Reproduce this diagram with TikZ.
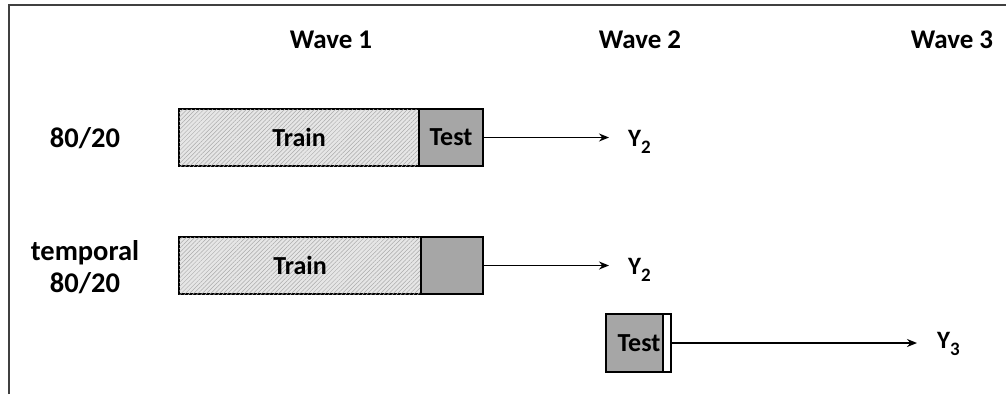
\documentclass[tikz,border=0pt]{standalone}
\usepackage{fontspec}
\setmainfont{Carlito}
\usetikzlibrary{patterns.meta,arrows.meta}
\definecolor{hatchbg}{HTML}{E6E6E6}
\definecolor{hatchln}{HTML}{ABABAB}
\definecolor{testgray}{HTML}{A6A6A6}
\newcommand{\ysub}[1]{Y\raisebox{-7pt}{\fontsize{19}{19}\selectfont #1}}
\begin{document}
\begin{tikzpicture}[x=1pt,y=-1pt,
  every node/.style={font=\bfseries},
  wavelbl/.style={font=\bfseries\fontsize{27}{32}\selectfont},
  rowlbl/.style={font=\bfseries\fontsize{28.5}{32}\selectfont, align=center},
  boxlbl/.style={font=\bfseries\fontsize{26}{30}\selectfont},
  ylbl/.style={font=\bfseries\fontsize{25}{30}\selectfont, inner sep=0pt, anchor=base west},
  seg/.style={draw=black, line width=2pt, minimum height=57pt, inner sep=0pt},
  trainbox/.style={seg, fill=hatchbg, postaction={pattern={Lines[angle=45,distance=3pt,line width=0.5pt]}, pattern color=hatchln}},
  testbox/.style={seg, fill=testgray},
  stripebox/.style={seg, fill=white},
  arr/.style={line width=1.8pt, -{Stealth[length=10pt,width=8pt]}},
  frame/.style={line width=1.2pt, draw=black!75}
]
\useasboundingbox (0,0) rectangle (1006,394);
\draw[frame] (9,394) -- (9,5) -- (1006,5);

\node[wavelbl] (w1) at (331,40) {Wave 1};
\node[wavelbl] (w2) at (640,40) {Wave 2};
\node[wavelbl] (w3) at (952,40) {Wave 3};

\node[rowlbl] (r1) at (85,138) {80/20};
\node[rowlbl] (r2) at (85,267) {temporal\\80/20};

\node[trainbox, minimum width=240pt] (train1) at (299,137.5) {};
\node[boxlbl] at (train1) {Train};
\node[testbox, minimum width=64pt, boxlbl] (test1) at (451,137.5) {Test};

\node[trainbox, minimum width=242pt] (train2) at (300,265.5) {};
\node[boxlbl] at (train2) {Train};
\node[testbox, minimum width=62pt] (gray2) at (452,265.5) {};

\node[testbox, minimum width=57pt, minimum height=58pt] (test3) at (634.5,343) {};
\node[boxlbl] at (639,343) {Test};
\node[stripebox, minimum width=8pt, minimum height=58pt] (stripe3) at (667,343) {};

\node[ylbl] (y2a) at (628,146) {\ysub{2}};
\node[ylbl] (y2b) at (628,274) {\ysub{2}};
\node[ylbl] (y3) at (937,348) {\ysub{3}};

\draw[arr, shorten >=19pt] (test1.east) -- (test1.east -| y2a.west);
\draw[arr, shorten >=19pt] (gray2.east) -- (gray2.east -| y2b.west);
\draw[arr, shorten >=20pt] (stripe3.east) -- (stripe3.east -| y3.west);
\end{tikzpicture}
\end{document}
